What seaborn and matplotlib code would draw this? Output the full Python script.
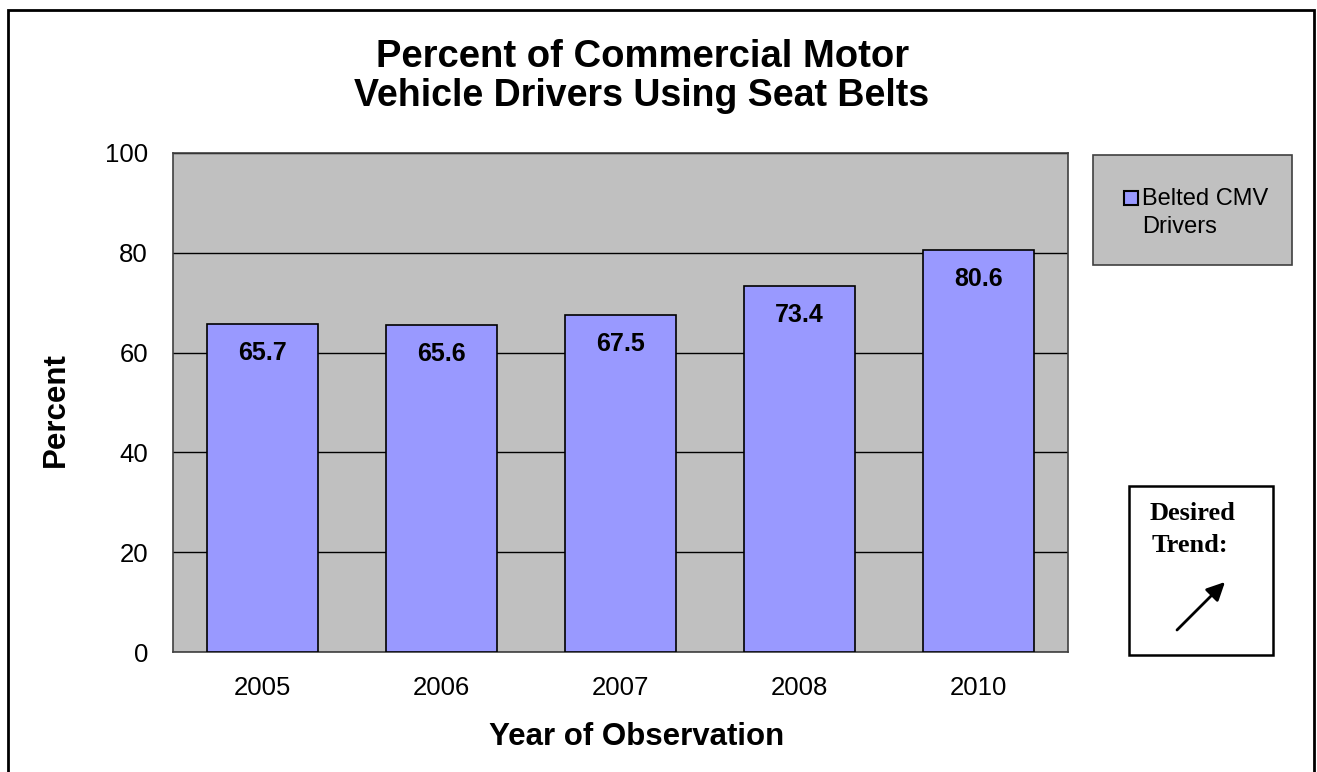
import matplotlib
matplotlib.use("Agg")
import matplotlib.pyplot as plt
from matplotlib.patches import Rectangle, FancyArrowPatch
import seaborn as sns
import pandas as pd

years = ["2005", "2006", "2007", "2008", "2010"]
percent = [65.7, 65.6, 67.5, 73.4, 80.6]
yticks = [0, 20, 40, 60, 80, 100]
series_name = "Belted CMV Drivers"

sns.set_theme(style="white")
plt.rcParams['font.family'] = ['Liberation Sans', 'DejaVu Sans']
plt.rcParams['text.color'] = 'black'
plt.rcParams['axes.labelcolor'] = 'black'

W, H = 1317, 772
fig = plt.figure(figsize=(W / 100, H / 100), dpi=100)

def fx(px):
    return px / W

def fy(py):
    return 1 - py / H

ax = fig.add_axes([fx(173), fy(652), fx(1068) - fx(173), fy(153) - fy(652)])
ax.set_facecolor("#C0C0C0")

df = pd.DataFrame({"Year": years, "Percent": percent})
sns.barplot(data=df, x="Year", y="Percent", ax=ax, color="#9999FF",
            saturation=1, width=0.625, edgecolor="black", linewidth=1.2, zorder=3)

ax.set_ylim(0, 100)
ax.set_yticks(yticks)
ax.yaxis.grid(True, color="black", linewidth=1)
ax.set_axisbelow(True)
for s in ax.spines.values():
    s.set_color("#404040")
    s.set_linewidth(1.2)
ax.tick_params(axis="both", labelsize=18.5, colors="black", length=0)
ax.tick_params(axis="y", pad=18)
ax.tick_params(axis="x", pad=17)

for i, v in enumerate(percent):
    ax.text(i, v - 5.8, f"{v}", ha="center", va="center", fontsize=18,
            fontweight="bold", color="black", zorder=5)

ax.set_xlabel("Year of Observation", fontsize=22.5, fontweight="bold")
ax.set_ylabel("Percent", fontsize=22.5, fontweight="bold")
ax.xaxis.set_label_coords((637 - 173) / 895, (652 - 737) / 499)
ax.xaxis.label.set_va("center")
ax.yaxis.set_label_coords((56 - 173) / 895, (652 - 410) / 499)
ax.yaxis.label.set_va("center")

fig.text(fx(643), fy(57), "Percent of Commercial Motor", ha="center", va="center",
         fontsize=27.5, fontweight="bold")
fig.text(fx(642), fy(96), "Vehicle Drivers Using Seat Belts", ha="center", va="center",
         fontsize=27, fontweight="bold")

# legend box
fig.add_artist(Rectangle((fx(1093), fy(265)), fx(1292) - fx(1093), fy(155) - fy(265),
                         transform=fig.transFigure, facecolor="#C0C0C0",
                         edgecolor="#404040", linewidth=1.2))
fig.add_artist(Rectangle((fx(1124), fy(205)), fx(14), fy(191) - fy(205),
                         transform=fig.transFigure, facecolor="#9999FF",
                         edgecolor="black", linewidth=1.5))
fig.text(fx(1142), fy(199), "Belted CMV", ha="left", va="center", fontsize=17)
fig.text(fx(1142), fy(227), "Drivers", ha="left", va="center", fontsize=17)

# desired trend box
fig.add_artist(Rectangle((fx(1129), fy(655)), fx(1273) - fx(1129), fy(486) - fy(655),
                         transform=fig.transFigure, facecolor="white",
                         edgecolor="black", linewidth=1.8))
fig.text(fx(1192), fy(513), "Desired", ha="center", va="center", fontsize=19,
         fontweight="bold", family=["Liberation Serif", "DejaVu Serif"])
fig.text(fx(1190), fy(546), "Trend:", ha="center", va="center", fontsize=19,
         fontweight="bold", family=["Liberation Serif", "DejaVu Serif"])
fig.add_artist(FancyArrowPatch((fx(1177), fy(630)), (fx(1225), fy(582)),
                               transform=fig.transFigure,
                               arrowstyle="-|>,head_length=0.55,head_width=0.27",
                               mutation_scale=20, color="black", linewidth=2,
                               shrinkA=0, shrinkB=0))

# outer frame (bottom edge clipped by figure)
fig.add_artist(Rectangle((fx(8), -0.05), fx(1314) - fx(8), fy(10) + 0.05,
                         transform=fig.transFigure, facecolor="none",
                         edgecolor="black", linewidth=2))

fig.savefig("out.png", dpi=100)
